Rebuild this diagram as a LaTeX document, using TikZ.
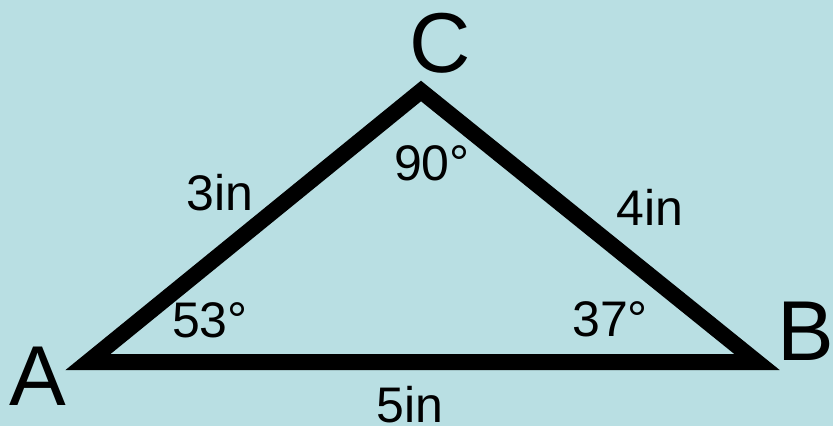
\documentclass[tikz,border=0pt]{standalone}
\usepackage{fontspec}
\setmainfont{Liberation Sans}
\definecolor{bgblue}{HTML}{B9DFE3}
\begin{document}
\begin{tikzpicture}[x=1pt,y=-1pt,
  vlabel/.style={font=\fontsize{85}{85}\selectfont, inner sep=0pt, anchor=base},
  mlabel/.style={font=\fontsize{50}{50}\selectfont, inner sep=0pt, anchor=base},
  side/.style={line width=16pt, line join=miter, draw=black}]
\fill[bgblue] (0,0) rectangle (833,426);
\useasboundingbox (0,0) rectangle (833,426);
\coordinate (pA) at (88,362);
\coordinate (pB) at (757,362);
\coordinate (pC) at (421,91);
\draw[side] (pA) -- (pB) -- (pC) -- cycle;
\node[vlabel] (lA) at (38,405) {A};
\node[vlabel] (lB) at (806,360) {B};
\node[vlabel] (lC) at (440,72) {C};
\node[mlabel] (s3) at (220,210) {3in};
\node[mlabel] (s4) at (650,225) {4in};
\node[mlabel] (s5) at (410,422) {5in};
\node[mlabel] (a90) at (432,180) {90°};
\node[mlabel] (a53) at (210,337) {53°};
\node[mlabel] (a37) at (610,336) {37°};
\end{tikzpicture}
\end{document}
